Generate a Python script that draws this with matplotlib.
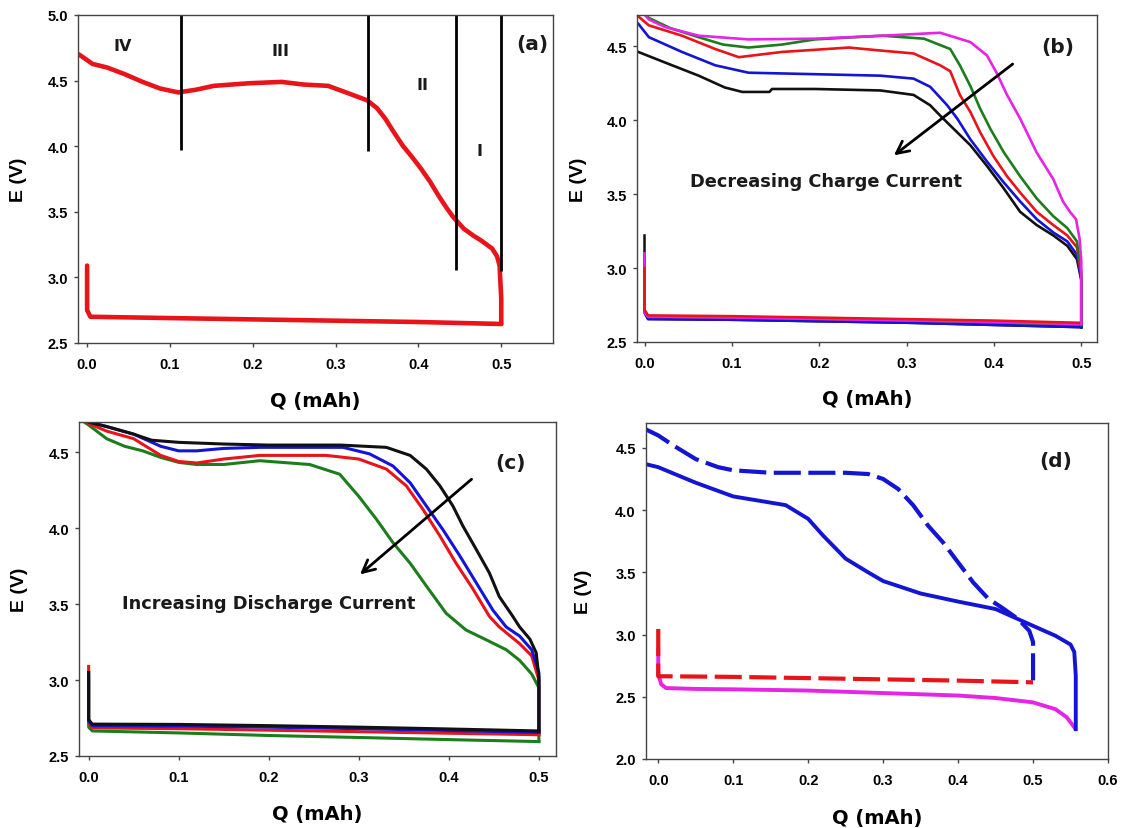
import matplotlib
matplotlib.use("Agg")
import matplotlib.pyplot as plt

plt.rcParams['font.family'] = ['Liberation Sans', 'DejaVu Sans']
plt.rcParams['font.weight'] = 'bold'
WIDE = ['DejaVu Sans']

RED = '#e8141a'
GREEN = '#1b7d1b'
BLUE = '#1414d4'
MAG = '#e524e5'
BLACK = '#111111'

# ---------------- panel (a) ----------------
a_chg_q = [-0.010, -0.002, 0.0065, 0.024, 0.045, 0.067, 0.088, 0.110, 0.131, 0.153,
           0.196, 0.235, 0.261, 0.291, 0.3125, 0.338, 0.350, 0.360, 0.370, 0.381, 0.392,
           0.403, 0.414, 0.4246, 0.434, 0.442, 0.455, 0.466, 0.476, 0.489, 0.495, 0.498,
           0.500, 0.500]
a_chg_e = [4.70, 4.665, 4.627, 4.60, 4.55, 4.49, 4.44, 4.41, 4.43, 4.46,
           4.48, 4.49, 4.47, 4.46, 4.41, 4.35, 4.29, 4.21, 4.11, 4.005, 3.92,
           3.83, 3.73, 3.62, 3.53, 3.46, 3.37, 3.32, 3.28, 3.22, 3.16, 3.09,
           2.84, 2.645]
a_dis_q = [0.0, 0.0, 0.004, 0.1, 0.2, 0.3, 0.4, 0.5]
a_dis_e = [3.09, 2.75, 2.70, 2.69, 2.68, 2.67, 2.66, 2.645]
a_div_q = [0.1137, 0.3397, 0.4458, 0.4995]
a_div_bottom = [3.97, 3.96, 3.06, 3.05]
a_region_labels = ['IV', 'III', 'II', 'I']
a_region_q = [0.043, 0.233, 0.405, 0.474]
a_region_e = [4.77, 4.73, 4.47, 3.97]

# ---------------- panel (b) ----------------
b_magenta_q = [-0.010, 0.005, 0.023, 0.062, 0.119, 0.195, 0.272, 0.3385, 0.373, 0.392,
               0.403, 0.415, 0.430, 0.449, 0.468, 0.479, 0.487, 0.494, 0.498, 0.500]
b_magenta_e = [4.78, 4.68, 4.63, 4.57, 4.545, 4.55, 4.57, 4.59, 4.527, 4.437,
               4.32, 4.17, 4.01, 3.78, 3.60, 3.45, 3.38, 3.33, 3.20, 3.05]
b_green_q = [-0.010, 0.005, 0.030, 0.062, 0.090, 0.119, 0.157, 0.195, 0.272, 0.320, 0.350,
             0.361, 0.373, 0.384, 0.396, 0.411, 0.430, 0.449, 0.468, 0.484, 0.495, 0.500]
b_green_e = [4.78, 4.69, 4.62, 4.56, 4.51, 4.49, 4.51, 4.545, 4.57, 4.55, 4.48,
             4.37, 4.23, 4.08, 3.94, 3.785, 3.62, 3.47, 3.35, 3.27, 3.18, 2.97]
b_red_q = [-0.007, 0.005, 0.043, 0.081, 0.108, 0.157, 0.234, 0.270, 0.308, 0.3385, 0.350,
           0.361, 0.373, 0.384, 0.399, 0.415, 0.430, 0.449, 0.468, 0.484, 0.495, 0.500]
b_red_e = [4.70, 4.64, 4.57, 4.48, 4.425, 4.46, 4.49, 4.47, 4.45, 4.37, 4.33,
           4.17, 4.055, 3.92, 3.76, 3.62, 3.51, 3.38, 3.29, 3.22, 3.14, 2.95]
b_blue_q = [-0.007, 0.005, 0.043, 0.081, 0.119, 0.195, 0.270, 0.308, 0.327, 0.3465, 0.358,
            0.373, 0.392, 0.411, 0.430, 0.449, 0.468, 0.484, 0.495, 0.500]
b_blue_e = [4.65, 4.56, 4.46, 4.37, 4.32, 4.31, 4.30, 4.28, 4.225, 4.10, 4.01,
            3.87, 3.72, 3.58, 3.45, 3.33, 3.24, 3.18, 3.09, 2.93]
b_black_q = [-0.007, 0.023, 0.062, 0.092, 0.112, 0.143, 0.146, 0.195, 0.270, 0.308, 0.327,
             0.3385, 0.354, 0.373, 0.392, 0.411, 0.430, 0.449, 0.468, 0.484, 0.495, 0.500]
b_black_e = [4.46, 4.39, 4.30, 4.22, 4.19, 4.19, 4.21, 4.21, 4.20, 4.17, 4.10,
             4.03, 3.94, 3.83, 3.69, 3.54, 3.38, 3.29, 3.22, 3.15, 3.06, 2.92]
b_dis_q = [0.0, 0.0, 0.004, 0.1, 0.2, 0.3, 0.4, 0.5]
b_dis_black = [3.22, 2.70, 2.655, 2.65, 2.64, 2.63, 2.615, 2.60]
b_dis_green = [3.00, 2.70, 2.665, 2.66, 2.65, 2.64, 2.63, 2.615]
b_dis_blue = [3.00, 2.70, 2.655, 2.65, 2.64, 2.63, 2.615, 2.60]
b_dis_magenta = [3.10, 2.70, 2.67, 2.665, 2.655, 2.645, 2.635, 2.62]
b_dis_red = [3.00, 2.72, 2.68, 2.675, 2.665, 2.655, 2.645, 2.63]

# ---------------- panel (c) ----------------
c_black_q = [-0.005, 0.0, 0.02, 0.05, 0.07, 0.10, 0.15, 0.20, 0.28, 0.3306, 0.357, 0.375,
             0.390, 0.4045, 0.4156, 0.4305, 0.445, 0.456, 0.471, 0.4786, 0.490, 0.497, 0.500]
c_black_e = [4.72, 4.70, 4.67, 4.62, 4.58, 4.566, 4.555, 4.548, 4.548, 4.533, 4.48, 4.39,
             4.28, 4.147, 4.015, 3.86, 3.706, 3.55, 3.42, 3.35, 3.27, 3.18, 3.02]
c_blue_q = [-0.005, 0.0, 0.02, 0.05, 0.08, 0.10, 0.12, 0.15, 0.19, 0.2825, 0.312, 0.338,
            0.357, 0.375, 0.3935, 0.412, 0.4305, 0.449, 0.4637, 0.4786, 0.492, 0.500]
c_blue_e = [4.72, 4.70, 4.67, 4.62, 4.54, 4.51, 4.51, 4.526, 4.533, 4.533, 4.49, 4.41,
            4.30, 4.147, 3.99, 3.82, 3.64, 3.46, 3.35, 3.29, 3.20, 3.05]
c_red_q = [-0.005, 0.0, 0.02, 0.05, 0.08, 0.10, 0.12, 0.15, 0.19, 0.264, 0.30, 0.3306,
           0.3527, 0.3712, 0.390, 0.408, 0.4268, 0.445, 0.456, 0.4786, 0.492, 0.500]
c_red_e = [4.71, 4.69, 4.64, 4.59, 4.48, 4.44, 4.43, 4.456, 4.48, 4.48, 4.456, 4.39,
           4.28, 4.125, 3.95, 3.77, 3.60, 3.42, 3.35, 3.24, 3.16, 3.00]
c_green_q = [-0.005, 0.0, 0.02, 0.04, 0.06, 0.08, 0.10, 0.12, 0.15, 0.19, 0.2455, 0.2788,
             0.30, 0.3195, 0.338, 0.357, 0.375, 0.397, 0.419, 0.4416, 0.4637, 0.4786, 0.492, 0.500]
c_green_e = [4.70, 4.68, 4.59, 4.54, 4.51, 4.467, 4.434, 4.42, 4.42, 4.445, 4.42, 4.356,
             4.21, 4.06, 3.905, 3.77, 3.62, 3.44, 3.33, 3.265, 3.20, 3.13, 3.04, 2.95]
c_dis_q = [0.0, 0.0, 0.004, 0.1, 0.2, 0.3, 0.4, 0.5]
c_dis_black = [3.05, 2.74, 2.71, 2.708, 2.70, 2.69, 2.678, 2.665]
c_dis_blue = [3.05, 2.73, 2.70, 2.697, 2.69, 2.68, 2.668, 2.655]
c_dis_red = [3.09, 2.72, 2.685, 2.68, 2.67, 2.66, 2.65, 2.64]
c_dis_green = [3.00, 2.69, 2.665, 2.652, 2.635, 2.622, 2.608, 2.595]

# ---------------- panel (d) ----------------
d_dash_blue_q = [-0.017, 0.0, 0.02, 0.05, 0.08, 0.10, 0.15, 0.20, 0.25, 0.28, 0.30, 0.32,
                 0.34, 0.36, 0.38, 0.40, 0.42, 0.44, 0.46, 0.48, 0.495, 0.500, 0.500]
d_dash_blue_e = [4.65, 4.60, 4.52, 4.41, 4.345, 4.32, 4.30, 4.30, 4.30, 4.29, 4.25, 4.17,
                 4.04, 3.875, 3.74, 3.58, 3.42, 3.29, 3.21, 3.125, 3.03, 2.94, 2.62]
d_dash_red_q = [0.0, 0.0, 0.1, 0.2, 0.3, 0.4, 0.5]
d_dash_red_e = [3.045, 2.665, 2.66, 2.65, 2.64, 2.63, 2.616]
d_solid_blue_q = [-0.017, 0.0, 0.05, 0.10, 0.15, 0.17, 0.20, 0.22, 0.25, 0.28, 0.30, 0.33,
                  0.35, 0.40, 0.45, 0.50, 0.53, 0.55, 0.555, 0.557, 0.557]
d_solid_blue_e = [4.37, 4.345, 4.22, 4.11, 4.06, 4.04, 3.93, 3.795, 3.61, 3.50, 3.43, 3.37,
                  3.33, 3.265, 3.205, 3.07, 2.99, 2.92, 2.86, 2.67, 2.24]
d_magenta_q = [0.0, 0.0, 0.004, 0.0105, 0.05, 0.10, 0.20, 0.30, 0.40, 0.45, 0.50, 0.53, 0.545, 0.555]
d_magenta_e = [2.88, 2.68, 2.60, 2.57, 2.563, 2.56, 2.55, 2.53, 2.51, 2.49, 2.455, 2.40, 2.335, 2.255]

# ---------------- figure ----------------
W, H = 1125, 829
fig = plt.figure(figsize=(W / 100, H / 100), dpi=100)


def box(left, right, top, bottom):
    return [left / W, 1 - bottom / H, (right - left) / W, (bottom - top) / H]


positions = {
    'a': box(78, 553, 16, 344),
    'b': box(637, 1097, 16, 343),
    'c': box(79, 556, 423, 757),
    'd': box(645.5, 1108, 424, 760),
}


def style(ax, xlim, ylim, xticks, yticks, xlab_y, ylab_x):
    ax.set_xlim(*xlim)
    ax.set_ylim(*ylim)
    ax.set_xticks(xticks)
    ax.set_yticks(yticks)
    ax.set_xticklabels([f'{t:.1f}' for t in xticks])
    ax.set_yticklabels([f'{t:.1f}' for t in yticks])
    for s in ax.spines.values():
        s.set_color('#444444')
        s.set_linewidth(1.0)
    ax.tick_params(direction='out', length=3, width=1.0, color='#444444',
                   labelsize=10.5, top=False, right=False)
    ax.tick_params(axis='x', pad=7)
    ax.tick_params(axis='y', pad=4)
    for lab in ax.get_xticklabels() + ax.get_yticklabels():
        lab.set_fontweight('bold')
    ax.set_xlabel('Q (mAh)', fontsize=14, fontweight='bold', family=WIDE)
    ax.set_ylabel('E (V)', fontsize=14, fontweight='bold')
    ax.xaxis.set_label_coords(0.5, xlab_y)
    ax.yaxis.set_label_coords(ylab_x, 0.5)


def note(ax, q, e, s, size):
    ax.text(q, e, s, fontsize=size, fontweight='bold', ha='center', va='center',
            color='#1a1a1a', family=WIDE)


# (a)
ax = fig.add_axes(positions['a'])
ax.plot(a_dis_q, a_dis_e, color=RED, lw=3.3, solid_capstyle='round', solid_joinstyle='round')
ax.plot(a_chg_q, a_chg_e, color=RED, lw=3.3, solid_capstyle='round', solid_joinstyle='round')
ax.vlines(a_div_q, a_div_bottom, 5.0, color='black', lw=2.0)
for lab, q, e in zip(a_region_labels, a_region_q, a_region_e):
    note(ax, q, e, lab, 11.5)
note(ax, 0.537, 4.78, '(a)', 14.5)
style(ax, (-0.011, 0.5625), (2.5, 5.0), [0.0, 0.1, 0.2, 0.3, 0.4, 0.5],
      [2.5, 3.0, 3.5, 4.0, 4.5, 5.0], -0.145, -0.107)

# (b)
ax = fig.add_axes(positions['b'])
for dis, col in [(b_dis_black, BLACK), (b_dis_green, GREEN), (b_dis_blue, BLUE),
                 (b_dis_magenta, MAG), (b_dis_red, RED)]:
    ax.plot(b_dis_q, dis, color=col, lw=1.8)
for cq, ce, dis, col in [(b_black_q, b_black_e, b_dis_black, BLACK),
                         (b_blue_q, b_blue_e, b_dis_blue, BLUE),
                         (b_red_q, b_red_e, b_dis_red, RED),
                         (b_green_q, b_green_e, b_dis_green, GREEN),
                         (b_magenta_q, b_magenta_e, b_dis_magenta, MAG)]:
    ax.plot(cq + [0.5], ce + [dis[-1]], color=col, lw=1.9)
ax.annotate('', xy=(0.283, 3.75), xytext=(0.424, 4.39),
            arrowprops=dict(arrowstyle='->', color='black', lw=2.0, mutation_scale=22))
note(ax, 0.208, 3.585, 'Decreasing Charge Current', 12.8)
note(ax, 0.473, 4.50, '(b)', 14.5)
style(ax, (-0.0086, 0.518), (2.5, 4.71), [0.0, 0.1, 0.2, 0.3, 0.4, 0.5],
      [2.5, 3.0, 3.5, 4.0, 4.5], -0.144, -0.109)

# (c)
ax = fig.add_axes(positions['c'])
for cq, ce, dis, col in [(c_green_q, c_green_e, c_dis_green, GREEN),
                         (c_red_q, c_red_e, c_dis_red, RED),
                         (c_blue_q, c_blue_e, c_dis_blue, BLUE),
                         (c_black_q, c_black_e, c_dis_black, BLACK)]:
    ax.plot(c_dis_q, dis, color=col, lw=2.2)
    ax.plot(cq + [0.5], ce + [dis[-1]], color=col, lw=2.2)
ax.annotate('', xy=(0.299, 3.684), xytext=(0.4276, 4.335),
            arrowprops=dict(arrowstyle='->', color='black', lw=2.0, mutation_scale=22))
note(ax, 0.20, 3.51, 'Increasing Discharge Current', 12.8)
note(ax, 0.469, 4.43, '(c)', 14.5)
style(ax, (-0.0107, 0.519), (2.5, 4.70), [0.0, 0.1, 0.2, 0.3, 0.4, 0.5],
      [2.5, 3.0, 3.5, 4.0, 4.5], -0.144, -0.107)

# (d)
ax = fig.add_axes(positions['d'])
ax.plot(d_magenta_q, d_magenta_e, color=MAG, lw=2.8)
ax.plot(d_solid_blue_q, d_solid_blue_e, color=BLUE, lw=2.8)
ax.plot(d_dash_red_q, d_dash_red_e, color=RED, lw=3.0, dashes=(6.5, 1.8))
ax.plot(d_dash_blue_q, d_dash_blue_e, color=BLUE, lw=3.0, dashes=(6.5, 1.8))
note(ax, 0.53, 4.40, '(d)', 14.5)
style(ax, (-0.017, 0.6), (2.0, 4.70), [0.0, 0.1, 0.2, 0.3, 0.4, 0.5, 0.6],
      [2.0, 2.5, 3.0, 3.5, 4.0, 4.5], -0.146, -0.116)

fig.savefig('out.png', dpi=100)
